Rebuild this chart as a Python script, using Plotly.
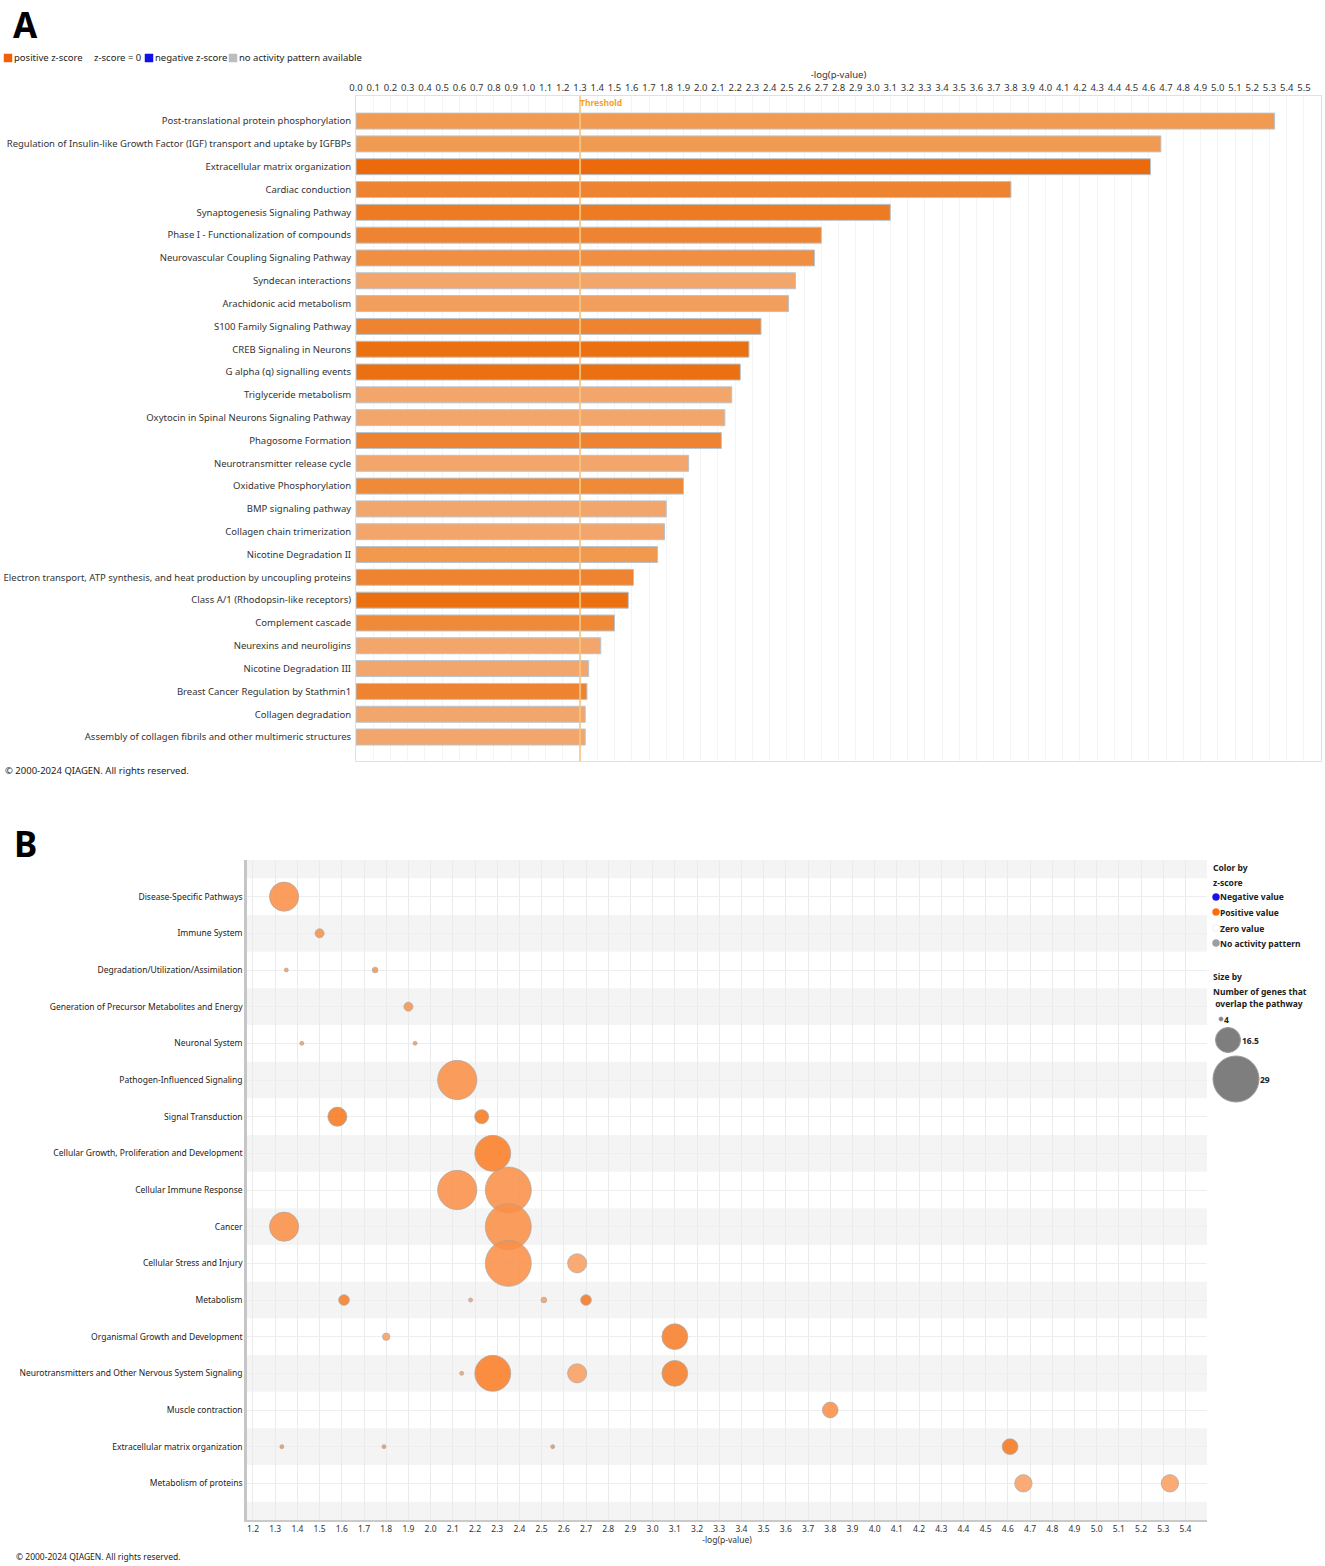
import plotly.graph_objects as go

# ---------------- Panel A data ----------------
pathways = [
    "Post-translational protein phosphorylation",
    "Regulation of Insulin-like Growth Factor (IGF) transport and uptake by IGFBPs",
    "Extracellular matrix organization",
    "Cardiac conduction",
    "Synaptogenesis Signaling Pathway",
    "Phase I - Functionalization of compounds",
    "Neurovascular Coupling Signaling Pathway",
    "Syndecan interactions",
    "Arachidonic acid metabolism",
    "S100 Family Signaling Pathway",
    "CREB Signaling in Neurons",
    "G alpha (q) signalling events",
    "Triglyceride metabolism",
    "Oxytocin in Spinal Neurons Signaling Pathway",
    "Phagosome Formation",
    "Neurotransmitter release cycle",
    "Oxidative Phosphorylation",
    "BMP signaling pathway",
    "Collagen chain trimerization",
    "Nicotine Degradation II",
    "Electron transport, ATP synthesis, and heat production by uncoupling proteins",
    "Class A/1 (Rhodopsin-like receptors)",
    "Complement cascade",
    "Neurexins and neuroligins",
    "Nicotine Degradation III",
    "Breast Cancer Regulation by Stathmin1",
    "Collagen degradation",
    "Assembly of collagen fibrils and other multimeric structures",
]
neg_log_p = [5.33, 4.67, 4.61, 3.80, 3.10, 2.70, 2.66, 2.55, 2.51, 2.35,
             2.28, 2.23, 2.18, 2.14, 2.12, 1.93, 1.90, 1.80, 1.79, 1.75,
             1.61, 1.58, 1.50, 1.42, 1.35, 1.34, 1.33, 1.33]
bar_colors = ["#F19B52", "#F19B52", "#EA6A0C", "#EE8331", "#EE7A22", "#EE8331",
              "#F08F42", "#F3A66B", "#F29F5D", "#EE8331", "#EB7011", "#EB7011",
              "#F3A66B", "#F3A66B", "#EE8331", "#F3A66B", "#EF8A39", "#F3A66B",
              "#F3A66B", "#F1994F", "#EE8331", "#EB7011", "#EF8A39", "#F3A66B",
              "#F3A66B", "#EE8331", "#F3A66B", "#F3A66B"]
threshold = 1.3

# ---------------- Panel B data ----------------
categories = [
    "Disease-Specific Pathways",
    "Immune System",
    "Degradation/Utilization/Assimilation",
    "Generation of Precursor Metabolites and Energy",
    "Neuronal System",
    "Pathogen-Influenced Signaling",
    "Signal Transduction",
    "Cellular Growth, Proliferation and Development",
    "Cellular Immune Response",
    "Cancer",
    "Cellular Stress and Injury",
    "Metabolism",
    "Organismal Growth and Development",
    "Neurotransmitters and Other Nervous System Signaling",
    "Muscle contraction",
    "Extracellular matrix organization",
    "Metabolism of proteins",
]
bub_cat = [
    "Disease-Specific Pathways",
    "Immune System",
    "Degradation/Utilization/Assimilation", "Degradation/Utilization/Assimilation",
    "Generation of Precursor Metabolites and Energy",
    "Neuronal System", "Neuronal System",
    "Pathogen-Influenced Signaling",
    "Signal Transduction", "Signal Transduction",
    "Cellular Growth, Proliferation and Development",
    "Cellular Immune Response", "Cellular Immune Response",
    "Cancer", "Cancer",
    "Cellular Stress and Injury", "Cellular Stress and Injury",
    "Metabolism", "Metabolism", "Metabolism", "Metabolism",
    "Organismal Growth and Development", "Organismal Growth and Development",
    "Neurotransmitters and Other Nervous System Signaling",
    "Neurotransmitters and Other Nervous System Signaling",
    "Neurotransmitters and Other Nervous System Signaling",
    "Neurotransmitters and Other Nervous System Signaling",
    "Muscle contraction",
    "Extracellular matrix organization", "Extracellular matrix organization",
    "Extracellular matrix organization", "Extracellular matrix organization",
    "Metabolism of proteins", "Metabolism of proteins",
]
bub_x = [1.34,
         1.50,
         1.35, 1.75,
         1.90,
         1.42, 1.93,
         2.12,
         1.58, 2.23,
         2.28,
         2.12, 2.35,
         1.34, 2.35,
         2.35, 2.66,
         1.61, 2.18, 2.51, 2.70,
         1.80, 3.10,
         2.14, 2.28, 2.66, 3.10,
         3.80,
         1.33, 1.79, 2.55, 4.61,
         4.67, 5.33]
bub_genes = [19,
             7,
             4, 5,
             7,
             4, 4,
             25,
             13, 10,
             23,
             25, 29,
             19, 29,
             29, 13,
             8, 4, 5, 8,
             6, 17,
             4, 23, 13, 17,
             11,
             4, 4, 4, 11,
             12, 12]
bub_colors = ["#FB9048",
              "#F9924A",
              "#F99A57", "#F9954E",
              "#F9954E",
              "#F99A57", "#F99A57",
              "#FB9048",
              "#F77A20", "#F77A20",
              "#FB7F28",
              "#FB9048", "#FB9048",
              "#FB9048", "#FB9048",
              "#FB9048", "#FAA062",
              "#F77F2A", "#F9A062", "#F9A062", "#F77A24",
              "#FAA062", "#F77F2A",
              "#F9A062", "#FB7F28", "#FAA062", "#F77F2A",
              "#FB9048",
              "#F39250", "#F39250", "#F39250", "#F77A20",
              "#FBA062", "#FBA062"]

legend_sizes = [4, 16.5, 29]

W, H = 1325, 1566
FONT = "Noto Sans"


def px(x):
    return x / W


def py(y):
    return 1 - y / H


def diam(n):
    return 4 + (n - 4) * 1.68


fig = go.Figure()

fig.add_trace(go.Bar(
    x=neg_log_p, y=pathways, orientation="h",
    marker=dict(color=bar_colors, line=dict(color="#B7C4CE", width=1)),
    width=0.7, xaxis="x", yaxis="y", showlegend=False, hoverinfo="x+y",
))

fig.add_trace(go.Scatter(
    x=bub_x, y=bub_cat, mode="markers", xaxis="x2", yaxis="y2",
    marker=dict(size=[diam(g) for g in bub_genes], color=bub_colors, opacity=0.88,
                line=dict(color="rgba(160,160,160,0.7)", width=1)),
    showlegend=False,
))

shapes = []
# alternating bands in panel B
n = len(categories)
shapes.append(dict(type="rect", xref="x2 domain", yref="y2", x0=0, x1=1, y0=-1, y1=-0.5,
                   fillcolor="#F4F4F4", line=dict(width=0), layer="below"))
for i in range(1, n, 2):
    shapes.append(dict(type="rect", xref="x2 domain", yref="y2", x0=0, x1=1, y0=i - 0.5, y1=i + 0.5,
                       fillcolor="#F4F4F4", line=dict(width=0), layer="below"))
shapes.append(dict(type="rect", xref="x2 domain", yref="y2", x0=0, x1=1, y0=n - 0.5, y1=n,
                   fillcolor="#F4F4F4", line=dict(width=0), layer="below"))

# threshold line
shapes.append(dict(type="line", xref="x", yref="y domain", x0=threshold, x1=threshold, y0=0, y1=1,
                   line=dict(color="rgba(248,196,128,0.85)", width=2), layer="above"))

# panel A legend swatches
for (x0, c, lc) in [(4, "#EE620E", "#EE620E"), (84, "#FFFFFF", "#EEEEEE"),
                    (145, "#1010E8", "#1010E8"), (229, "#BDBDBD", "#BDBDBD")]:
    shapes.append(dict(type="rect", xref="paper", yref="paper", x0=px(x0), x1=px(x0 + 8),
                       y0=py(62), y1=py(54), fillcolor=c, line=dict(color=lc, width=0.5)))

# panel B legend circles
for (cx, cy, r, c, lc) in [(1216, 897, 3.5, "#1515E6", "#1515E6"), (1216, 912, 3.5, "#FF6A10", "#FF6A10"),
                           (1216, 928, 3.5, "#FFFFFF", "#E0E0E0"), (1216, 943, 3.5, "#9C9CAA", "#9C9CAA")]:
    shapes.append(dict(type="circle", xref="paper", yref="paper", x0=px(cx - r), x1=px(cx + r),
                       y0=py(cy + r), y1=py(cy - r), fillcolor=c, line=dict(color=lc, width=0.5)))
size_pos = [(1221, 1019), (1228, 1040), (1236, 1079)]
for (cx, cy), s in zip(size_pos, legend_sizes):
    r = diam(s) / 2
    shapes.append(dict(type="circle", xref="paper", yref="paper", x0=px(cx - r), x1=px(cx + r),
                       y0=py(cy + r), y1=py(cy - r), fillcolor="#7E7E7E",
                       line=dict(color="#9A9A9A", width=1)))

annotations = []


def ann(text, x, y, size=10, bold=False, color="#222222", xanchor="left", yanchor="middle", pad=1):
    t = f"<b>{text}</b>" if bold else text
    annotations.append(dict(text=t, x=px(x), y=py(y), xref="paper", yref="paper",
                            xanchor=xanchor, yanchor=yanchor, showarrow=False, borderpad=pad,
                            font=dict(family=FONT, size=size, color=color)))


ann("A", 12, 0, size=35, bold=True, color="#000000", yanchor="top", pad=0)
ann("B", 13, 819, size=35, bold=True, color="#000000", yanchor="top", pad=0)
ann("positive z-score", 12, 58, size=9.5)
ann("z-score = 0", 92, 58, size=9.5)
ann("negative z-score", 153, 58, size=9.5)
ann("no activity pattern available", 237, 58, size=9.5)
ann("© 2000-2024 QIAGEN. All rights reserved.", 3, 770, size=9.5)
ann("© 2000-2024 QIAGEN. All rights reserved.", 14, 1556, size=8.5)

# Threshold label
annotations.append(dict(text="<b>Threshold</b>", x=threshold, y=1, xref="x", yref="y domain",
                        xanchor="left", yanchor="top", showarrow=False, xshift=-2, yshift=1,
                        font=dict(family=FONT, size=8.5, color="#F7A21C")))

# Panel B legend text
ann("Color by", 1211, 867, size=8.5, bold=True)
ann("z-score", 1211, 882, size=8.5, bold=True)
ann("Negative value", 1218, 897, size=8.5, bold=True)
ann("Positive value", 1218, 912, size=8.5, bold=True)
ann("Zero value", 1218, 928, size=8.5, bold=True)
ann("No activity pattern", 1218, 943, size=8.5, bold=True)
ann("Size by", 1211, 976, size=8.5, bold=True)
ann("Number of genes that", 1211, 991, size=8.5, bold=True)
ann(" overlap the pathway", 1211, 1003, size=8.5, bold=True)
for (cx, cy), s in zip(size_pos, legend_sizes):
    label = f"{s:g}"
    ann(label, cx + diam(s) / 2 - 1, cy, size=8.5, bold=True)

fig.update_layout(
    width=W, height=H, margin=dict(l=0, r=0, t=0, b=0, autoexpand=False),
    paper_bgcolor="white", plot_bgcolor="white",
    font=dict(family=FONT, size=9.5, color="#333333"),
    bargap=0.3,
    shapes=shapes, annotations=annotations,
    xaxis=dict(domain=[px(356), px(1321)], anchor="y", side="top", automargin=False,
               range=[0, 5.599], tickmode="linear", tick0=0, dtick=0.1, tickformat=".1f",
               showgrid=True, gridcolor="#F4F4F4", gridwidth=1, zeroline=False,
               showline=True, linecolor="#DCE2E7", mirror=True, ticks="",
               tickfont=dict(size=9.5, color="#333333"),
               title=dict(text="-log(p-value)", standoff=0, font=dict(size=9.5, color="#333333"))),
    yaxis=dict(domain=[py(761), py(96)], anchor="x", type="category", automargin=False,
               categoryorder="array", categoryarray=pathways,
               range=[len(pathways) - 1 + 1.05, -1.1],
               showgrid=False, zeroline=False, showline=True, linecolor="#DCE2E7", mirror=True,
               ticks="", ticklabelstandoff=2, tickfont=dict(size=9.5, color="#333333")),
    xaxis2=dict(domain=[px(247), px(1207)], anchor="y2", automargin=False,
                range=[1.173, 5.497], tickmode="linear", tick0=1.2, dtick=0.1, tickformat=".1f",
                showgrid=True, gridcolor="#EBEBEB", gridwidth=1, zeroline=False,
                showline=True, linecolor="#C9C9C9", linewidth=1.5, ticks="",
                tickfont=dict(size=8.5, color="#333333"),
                title=dict(text="-log(p-value)", standoff=4, font=dict(size=8.5, color="#333333"))),
    yaxis2=dict(domain=[py(1520), py(860)], anchor="x2", type="category", automargin=False,
                categoryorder="array", categoryarray=categories,
                range=[len(categories), -1],
                showgrid=True, gridcolor="#EEEEEE", zeroline=False,
                showline=True, linecolor="#C6C6C6", linewidth=2.5, ticks="",
                ticklabelstandoff=0, tickfont=dict(size=8.5, color="#222222")),
)

fig.write_html("out.html", config={"displayModeBar": False},
               post_script="document.body.style.margin='0';")
